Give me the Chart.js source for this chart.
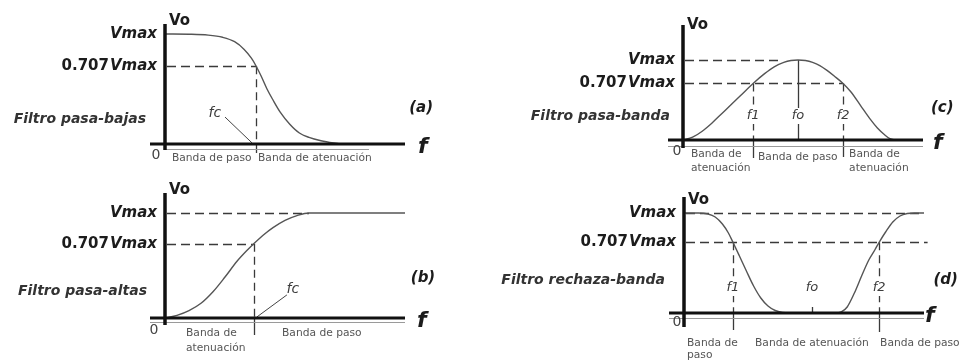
<!DOCTYPE html>
<html>
<head>
<meta charset="utf-8">
<script src="https://cdn.jsdelivr.net/npm/chart.js@4.4.1/dist/chart.umd.min.js"></script>
<style>
  html, body { margin: 0; padding: 0; background: #fff; }
  #sheet { position: relative; width: 960px; height: 361px; overflow: hidden; background: #fff; }
  #sheet canvas { position: absolute; }
</style>
</head>
<body>
<div id="sheet">
  <canvas id="pLow"  width="480" height="180" style="left:0;top:0;width:480px;height:180px"></canvas>
  <canvas id="pHigh" width="480" height="181" style="left:0;top:180px;width:480px;height:181px"></canvas>
  <canvas id="pBand" width="480" height="180" style="left:480px;top:0;width:480px;height:180px"></canvas>
  <canvas id="pStop" width="480" height="181" style="left:480px;top:180px;width:480px;height:181px"></canvas>
</div>
<script>
// Reference output levels (fraction of Vmax) and their axis names
const levelValues = [0.707, 1];
const levelNames = ['0.707', 'Vmax'];

// (a) low-pass response: frequency (arbitrary units) vs Vo/Vmax
const freqLowPass = [0, 10, 18, 24, 29, 33, 36, 38, 40, 42.5, 45, 48, 52, 56, 60, 65, 73];
const gainLowPass = [1, 0.998, 0.99, 0.97, 0.93, 0.86, 0.78, 0.707, 0.62, 0.5, 0.4, 0.29, 0.18, 0.1, 0.06, 0.03, 0];
const cornerLowPass = [38];

// (b) high-pass response
const freqHighPass = [0, 5, 10, 15, 20, 25, 30, 34, 37, 41, 45, 50, 55, 60, 100];
const gainHighPass = [0, 0.025, 0.07, 0.14, 0.25, 0.39, 0.54, 0.64, 0.707, 0.79, 0.86, 0.93, 0.975, 1, 1];
const cornerHighPass = [37];

// (c) band-pass response
const freqBandPass = [0, 4, 8, 12, 16, 20, 24, 29.2, 34, 38, 42, 45, 47.9, 51, 54, 57, 60, 63, 66.7, 70, 74, 78, 81, 84, 86, 88];
const gainBandPass = [0, 0.035, 0.11, 0.21, 0.325, 0.44, 0.556, 0.707, 0.83, 0.915, 0.97, 0.993, 1, 0.993, 0.97, 0.93, 0.87, 0.8, 0.707, 0.6, 0.43, 0.26, 0.15, 0.065, 0.02, 0];
const edgesBandPass = [29.2, 47.9, 66.7];

// (d) band-stop response
const freqBandStop = [0, 6, 10, 13, 16, 18.5, 20.4, 23, 26, 29, 32, 35, 38, 41, 43.5, 63, 65.5, 68, 71, 74, 77, 79.5, 81.3, 84, 87, 90, 93, 96, 100];
const gainBandStop = [1, 1, 0.99, 0.96, 0.89, 0.8, 0.707, 0.575, 0.42, 0.27, 0.15, 0.07, 0.025, 0.005, 0, 0, 0.01, 0.06, 0.2, 0.37, 0.53, 0.63, 0.707, 0.81, 0.91, 0.97, 0.995, 1, 1];
const edgesBandStop = [20.4, 53.3, 81.3];

// Text
const edgeNames = ['f1', 'fo', 'f2'];
const cornerName = 'fc';
const filterNames = ['Filtro pasa-bajas', 'Filtro pasa-altas', 'Filtro pasa-banda', 'Filtro rechaza-banda'];
const panelTags = ['(a)', '(b)', '(c)', '(d)'];
const bandsLowPass = [['Banda de paso'], ['Banda de atenuación']];
const bandsHighPass = [['Banda de', 'atenuación'], ['Banda de paso']];
const bandsBandPass = [['Banda de', 'atenuación'], ['Banda de paso'], ['Banda de', 'atenuación']];
const bandsBandStop = [['Banda de', 'paso'], ['Banda de atenuación'], ['Banda de paso']];

const FAMILY = '"DejaVu Sans", "Liberation Sans", sans-serif';
function fnt(size, bold, italic) {
  return (italic ? 'italic ' : '') + (bold ? 'bold ' : '') + size + 'px ' + FAMILY;
}
function say(ctx, s, x, y, font, color, align, base) {
  ctx.font = font;
  ctx.fillStyle = color;
  ctx.textAlign = align || 'left';
  ctx.textBaseline = base || 'middle';
  ctx.fillText(s, x, y);
}

const INK = '#1c1c1c';
const GUIDE = '#3a3a3a';

function makeDiagram(spec) {
  return {
    id: 'diagram',
    beforeDatasetsDraw(chart) {
      const ctx = chart.ctx, sx = chart.scales.x, sy = chart.scales.y;
      ctx.save();
      ctx.strokeStyle = GUIDE;
      ctx.lineWidth = 1.3;
      // horizontal reference levels
      ctx.setLineDash([9, 5]);
      spec.guides.forEach(g => {
        const y = Math.round(sy.getPixelForValue(g.v)) + 0.5;
        ctx.beginPath();
        ctx.moveTo(sx.getPixelForValue(g.u0) + 2, y);
        ctx.lineTo(sx.getPixelForValue(g.u1), y);
        ctx.stroke();
      });
      // vertical markers at characteristic frequencies
      const y0 = sy.getPixelForValue(0);
      spec.verticals.forEach(m => {
        const x = Math.round(sx.getPixelForValue(m.u)) + 0.5;
        ctx.setLineDash(m.dash ? [8, 5] : []);
        ctx.beginPath();
        ctx.moveTo(x, sy.getPixelForValue(m.v0));
        ctx.lineTo(x, sy.getPixelForValue(m.v1));
        ctx.stroke();
        if (m.below) {
          ctx.setLineDash([]);
          ctx.beginPath();
          ctx.moveTo(x, y0);
          ctx.lineTo(x, y0 + m.below);
          ctx.stroke();
        }
      });
      // leader lines from labels
      ctx.setLineDash([]);
      ctx.lineWidth = 1;
      ctx.strokeStyle = '#444';
      spec.leaders.forEach(l => {
        ctx.beginPath();
        ctx.moveTo(sx.getPixelForValue(l.u0), sy.getPixelForValue(l.v0));
        ctx.lineTo(sx.getPixelForValue(l.u1), sy.getPixelForValue(l.v1));
        ctx.stroke();
      });
      // frequency labels (white backing interrupts the marker lines)
      spec.marks.forEach(m => {
        const x = sx.getPixelForValue(m.u), y = sy.getPixelForValue(m.v);
        ctx.font = fnt(m.size || 13, false, true);
        const w = ctx.measureText(m.text).width;
        if (m.bg) {
          ctx.fillStyle = '#fff';
          ctx.fillRect(x - w / 2 - 1, y - 8, w + 2, 16);
        }
        say(ctx, m.text, x, y, fnt(m.size || 13, false, true), '#3c3c3c', 'center', 'middle');
      });
      ctx.restore();
    },
    afterDatasetsDraw(chart) {
      const ctx = chart.ctx, sx = chart.scales.x, sy = chart.scales.y, area = chart.chartArea;
      const ax = sx.getPixelForValue(0), ay = sy.getPixelForValue(0);
      ctx.save();
      // thin baseline under the frequency axis
      ctx.strokeStyle = '#9a9a9a';
      ctx.lineWidth = 1;
      ctx.beginPath();
      ctx.moveTo(sx.getPixelForValue(spec.base.u0), Math.round(ay + spec.base.dy) + 0.5);
      ctx.lineTo(sx.getPixelForValue(spec.base.u1), Math.round(ay + spec.base.dy) + 0.5);
      ctx.stroke();
      // frequency axis
      ctx.strokeStyle = '#111';
      ctx.lineWidth = 3;
      ctx.beginPath();
      ctx.moveTo(area.left, ay);
      ctx.lineTo(area.right, ay);
      ctx.stroke();
      // output axis
      ctx.lineWidth = 3.5;
      ctx.beginPath();
      ctx.moveTo(ax, area.top);
      ctx.lineTo(ax, ay + spec.axisBelow);
      ctx.stroke();

      // axis names
      say(ctx, 'Vo', ax + 4, area.top + spec.voDy, fnt(15, true, false), INK, 'left', 'middle');
      say(ctx, 'f', sx.getPixelForValue(spec.fU), ay + 3, fnt(22, true, true), INK, 'left', 'middle');
      say(ctx, '0', ax + spec.zero[0], ay + spec.zero[1], fnt(14, false, false), '#444', 'center', 'middle');

      // level names on the output axis
      const yMaxPx = sy.getPixelForValue(levelValues[1]);
      const yHalfPx = sy.getPixelForValue(levelValues[0]);
      const right = ax - 8;
      say(ctx, levelNames[1], right, yMaxPx, fnt(15, true, true), INK, 'right', 'middle');
      ctx.font = fnt(15, true, true);
      const wv = ctx.measureText(levelNames[1]).width;
      say(ctx, levelNames[1], right, yHalfPx, fnt(15, true, true), INK, 'right', 'middle');
      say(ctx, levelNames[0], right - wv - 1, yHalfPx, fnt(15, true, false), INK, 'right', 'middle');

      // filter name and panel tag
      say(ctx, spec.title, ax + spec.titleDx, sy.getPixelForValue(spec.titleV), fnt(14, true, true), '#333', 'right', 'middle');
      say(ctx, spec.tag, sx.getPixelForValue(spec.tagU), sy.getPixelForValue(spec.tagV), fnt(15, true, true), INK, 'center', 'middle');

      // band names under the axis
      spec.bands.forEach(b => {
        b.lines.forEach((s, i) => {
          say(ctx, s, sx.getPixelForValue(b.u), ay + b.dy + i * (b.lh || 14), fnt(10.7, false, false), '#555', 'left', 'middle');
        });
      });
      ctx.restore();
    }
  };
}

function buildPanel(spec) {
  const pts = spec.freq.map((f, i) => ({ x: f, y: spec.gain[i] }));
  return new Chart(document.getElementById(spec.canvas), {
    type: 'line',
    data: {
      datasets: [{
        data: pts,
        borderColor: '#555',
        borderWidth: 1.4,
        pointRadius: 0,
        fill: false,
        cubicInterpolationMode: 'monotone',
        clip: false
      }]
    },
    options: {
      responsive: false,
      animation: false,
      devicePixelRatio: 1,
      layout: { padding: spec.padding },
      plugins: { legend: { display: false }, tooltip: { enabled: false }, title: { display: false } },
      scales: {
        x: { type: 'linear', min: -6.25, max: 100, display: false },
        y: { type: 'linear', min: 0, max: spec.yMax, display: false }
      },
      events: []
    },
    plugins: [makeDiagram(spec)]
  });
}

// (a) low-pass
buildPanel({
  canvas: 'pLow', freq: freqLowPass, gain: gainLowPass,
  padding: { left: 150, right: 75, top: 24, bottom: 36 }, yMax: 1.0909,
  guides: [{ v: levelValues[0], u0: 0, u1: cornerLowPass[0] }],
  verticals: [{ u: cornerLowPass[0], v0: levelValues[0], v1: 0, dash: true, below: 9 }],
  marks: [{ text: cornerName, u: 20.8, v: 0.28, size: 14 }],
  leaders: [{ u0: 25, v0: 0.245, u1: 36.25, v1: 0.01 }],
  title: filterNames[0], titleDx: -19, titleV: 0.22,
  tag: panelTags[0], tagU: 106.7, tagV: 0.33,
  fU: 105.4, zero: [-9, 11], axisBelow: 6, voDy: -3,
  base: { u0: 0, u1: 85, dy: 5 },
  bands: [{ lines: bandsLowPass[0], u: 2.9, dy: 14 }, { lines: bandsLowPass[1], u: 38.75, dy: 14 }]
});

// (b) high-pass
buildPanel({
  canvas: 'pHigh', freq: freqHighPass, gain: gainHighPass,
  padding: { left: 150, right: 75, top: 13, bottom: 43 }, yMax: 1.19,
  guides: [{ v: levelValues[1], u0: 0, u1: 60 }, { v: levelValues[0], u0: 0, u1: cornerHighPass[0] }],
  verticals: [{ u: cornerHighPass[0], v0: levelValues[0], v1: 0, dash: true, below: 17 }],
  marks: [{ text: cornerName, u: 53.3, v: 0.276, size: 14 }],
  leaders: [{ u0: 50.8, v0: 0.22, u1: 38.3, v1: 0.01 }],
  title: filterNames[1], titleDx: -18, titleV: 0.25,
  tag: panelTags[1], tagU: 107.5, tagV: 0.38,
  fU: 105, zero: [-11, 12], axisBelow: 7, voDy: -3,
  base: { u0: -6.25, u1: 100, dy: 4 },
  bands: [{ lines: bandsHighPass[0], u: 8.75, dy: 15, lh: 15 }, { lines: bandsHighPass[1], u: 48.75, dy: 15 }]
});

// (c) band-pass
buildPanel({
  canvas: 'pBand', freq: freqBandPass, gain: gainBandPass,
  padding: { left: 188, right: 37, top: 25, bottom: 40 }, yMax: 1.4375,
  guides: [{ v: levelValues[1], u0: 0, u1: 39.6 }, { v: levelValues[0], u0: 0, u1: edgesBandPass[2] }],
  verticals: [
    { u: edgesBandPass[0], v0: levelValues[0], v1: 0, dash: true, below: 18 },
    { u: edgesBandPass[1], v0: levelValues[1], v1: 0, dash: false, below: 0 },
    { u: edgesBandPass[2], v0: levelValues[0], v1: 0, dash: true, below: 17 }
  ],
  marks: edgesBandPass.map((u, i) => ({ text: edgeNames[i], u: u, v: 0.3, bg: true })),
  leaders: [],
  title: filterNames[2], titleDx: -13, titleV: 0.3,
  tag: panelTags[2], tagU: 108, tagV: 0.4,
  fU: 104.2, zero: [-6, 11], axisBelow: 8, voDy: 0,
  base: { u0: -6.25, u1: 100, dy: 6 },
  bands: [
    { lines: bandsBandPass[0], u: 3.3, dy: 14, lh: 14 },
    { lines: bandsBandPass[1], u: 31.25, dy: 17 },
    { lines: bandsBandPass[2], u: 69.2, dy: 14, lh: 14 }
  ]
});

// (d) band-stop
buildPanel({
  canvas: 'pStop', freq: freqBandStop, gain: gainBandStop,
  padding: { left: 189, right: 36, top: 17, bottom: 48 }, yMax: 1.16,
  guides: [{ v: levelValues[1], u0: 0, u1: 100 }, { v: levelValues[0], u0: 0, u1: 101.5 }],
  verticals: [
    { u: edgesBandStop[0], v0: levelValues[0], v1: 0, dash: true, below: 17 },
    { u: edgesBandStop[1], v0: 0.06, v1: 0, dash: false, below: 0 },
    { u: edgesBandStop[2], v0: levelValues[0], v1: 0, dash: true, below: 19 }
  ],
  marks: edgesBandStop.map((u, i) => ({ text: edgeNames[i], u: u, v: 0.25, bg: true })),
  leaders: [],
  title: filterNames[3], titleDx: -19, titleV: 0.33,
  tag: panelTags[3], tagU: 109, tagV: 0.33,
  fU: 100.4, zero: [-7, 9], axisBelow: 14, voDy: 3,
  base: { u0: -6.25, u1: 100, dy: 5 },
  bands: [
    { lines: bandsBandStop[0], u: 1.25, dy: 30, lh: 12 },
    { lines: bandsBandStop[1], u: 29.6, dy: 30 },
    { lines: bandsBandStop[2], u: 81.7, dy: 30 }
  ]
});
</script>
</body>
</html>
